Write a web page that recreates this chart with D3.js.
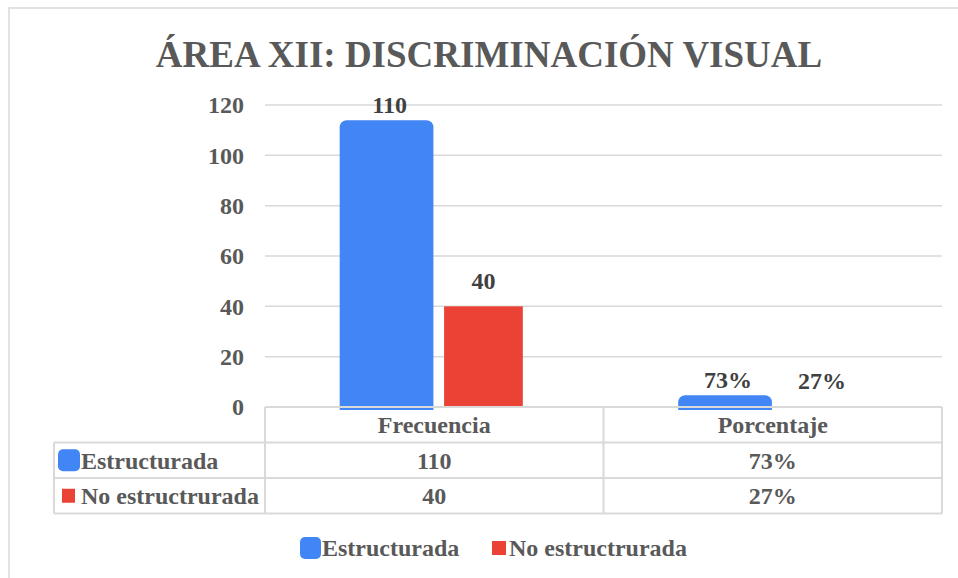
<!DOCTYPE html>
<html>
<head>
<meta charset="utf-8">
<script src="https://cdn.jsdelivr.net/npm/d3@7"></script>
<style>
  body { margin: 0; background: #ffffff; }
  svg text { font-family: "Liberation Serif", "Times New Roman", serif; font-weight: bold; }
</style>
</head>
<body>
<div id="chart"></div>
<script>
var categories = ["Frecuencia", "Porcentaje"];
var seriesNames = ["Estructurada", "No estructrurada"];
var estructurada = [110, 0.73];
var noEstructurada = [40, 0.27];
var yTicks = [0, 20, 40, 60, 80, 100, 120];
var colors = ["#4285F4", "#EA4335"];

var w = 958, h = 578;
var plotLeft = 265, plotRight = 942, plotTop = 105, zero = 407;
var rowH = 35.5;

function fmt(v, i) {
    return i === 1 ? Math.round(v * 100) + "%" : String(v);
}

var svg = d3.select("#chart").append("svg")
    .attr("width", w)
    .attr("height", h);

// outer frame
svg.append("rect")
    .attr("x", 9).attr("y", 8)
    .attr("width", w).attr("height", h)
    .attr("fill", "none")
    .attr("stroke", "#d9d9d9")
    .attr("stroke-width", 1.5);

svg.append("text")
    .attr("x", 489).attr("y", 67)
    .attr("text-anchor", "middle")
    .attr("font-size", 37)
    .attr("fill", "#595959")
    .text("ÁREA XII: DISCRIMINACIÓN VISUAL");

var x = d3.scaleBand().domain(categories).range([plotLeft, plotRight]);
var xs = d3.scaleBand().domain(seriesNames).range([0, x.bandwidth()])
    .paddingInner(0.2).paddingOuter(0.82);
var y = d3.scaleLinear().domain([0, 120]).range([zero, plotTop]);

// gridlines
svg.append("g").selectAll("line")
    .data(yTicks.slice(1))
    .enter().append("line")
    .attr("x1", plotLeft).attr("x2", plotRight)
    .attr("y1", function (d) { return y(d); })
    .attr("y2", function (d) { return y(d); })
    .attr("stroke", "#d9d9d9")
    .attr("stroke-width", 1.5);

var yAxis = svg.append("g")
    .attr("transform", "translate(" + plotLeft + ",0)")
    .call(d3.axisLeft(y).tickValues(yTicks).tickSize(0).tickPadding(21));
yAxis.select(".domain").remove();
yAxis.selectAll("text")
    .attr("font-size", 24)
    .attr("font-family", "Liberation Serif, serif")
    .attr("fill", "#595959");

var data = [];
categories.forEach(function (c, i) {
    data.push({ cat: c, ci: i, s: 0, v: estructurada[i] });
    data.push({ cat: c, ci: i, s: 1, v: noEstructurada[i] });
});

svg.append("clipPath").attr("id", "clipBars")
    .append("rect")
    .attr("x", 0).attr("y", 0)
    .attr("width", w).attr("height", zero + 3);

var bars = svg.append("g").attr("clip-path", "url(#clipBars)");
bars.selectAll("rect")
    .data(data)
    .enter().append("rect")
    .attr("x", function (d) {
        var bx = x(d.cat) + xs(seriesNames[d.s]);
        return d.s === 0 ? bx - 6 : bx;
    })
    .attr("width", function (d) { return d.s === 0 ? xs.bandwidth() + 15 : xs.bandwidth(); })
    .attr("y", function (d) { return d.s === 0 ? y(d.v) - 10 : y(d.v); })
    .attr("height", function (d) {
        return d.s === 0 ? zero - y(d.v) + 20 : zero - y(d.v);
    })
    .attr("rx", function (d) { return d.s === 0 ? 7 : 0; })
    .attr("fill", function (d) { return colors[d.s]; });

svg.append("g").selectAll("text")
    .data(data)
    .enter().append("text")
    .attr("x", function (d) {
        var bx = x(d.cat) + xs(seriesNames[d.s]) + xs.bandwidth() / 2;
        return d.s === 0 ? bx + 4.5 : bx;
    })
    .attr("y", function (d) { return y(d.v) - 17; })
    .attr("text-anchor", "middle")
    .attr("font-size", 24)
    .attr("fill", "#404040")
    .text(function (d) { return fmt(d.v, d.ci); });

// data table
var tbl = svg.append("g").attr("stroke", "#d9d9d9").attr("stroke-width", 2);
var rows = [zero, zero + rowH, zero + 2 * rowH, zero + 3 * rowH];
tbl.append("line").attr("x1", plotLeft).attr("x2", plotRight).attr("y1", rows[0]).attr("y2", rows[0]);
[1, 2, 3].forEach(function (r) {
    tbl.append("line").attr("x1", 54).attr("x2", plotRight).attr("y1", rows[r]).attr("y2", rows[r]);
});
tbl.append("line").attr("x1", 54).attr("x2", 54).attr("y1", rows[1]).attr("y2", rows[3]);
[plotLeft, x(categories[1]), plotRight].forEach(function (cx) {
    tbl.append("line").attr("x1", cx).attr("x2", cx).attr("y1", rows[0]).attr("y2", rows[3]);
});

svg.append("g").selectAll("text")
    .data(categories)
    .enter().append("text")
    .attr("x", function (d) { return x(d) + x.bandwidth() / 2; })
    .attr("y", rows[0] + rowH / 2)
    .attr("dy", "0.35em")
    .attr("text-anchor", "middle")
    .attr("font-size", 24)
    .attr("fill", "#595959")
    .text(function (d) { return d; });

var seriesVals = [estructurada, noEstructurada];
seriesVals.forEach(function (vals, s) {
    var cy = rows[s + 1] + rowH / 2;
    svg.append("g").selectAll("text")
        .data(vals)
        .enter().append("text")
        .attr("x", function (d, i) { return x(categories[i]) + x.bandwidth() / 2; })
        .attr("y", cy)
        .attr("dy", "0.35em")
        .attr("text-anchor", "middle")
        .attr("font-size", 24)
        .attr("fill", "#595959")
        .text(function (d, i) { return fmt(d, i); });
    if (s === 0) {
        svg.append("rect").attr("x", 58).attr("y", cy - 11).attr("width", 22).attr("height", 22)
            .attr("rx", 5).attr("fill", colors[0]);
    } else {
        svg.append("rect").attr("x", 62).attr("y", cy - 7).attr("width", 13).attr("height", 14)
            .attr("fill", colors[1]);
    }
    svg.append("text")
        .attr("x", 81).attr("y", cy).attr("dy", "0.35em")
        .attr("font-size", 24)
        .attr("fill", "#595959")
        .text(seriesNames[s]);
});

// legend
var legY = 548;
svg.append("rect").attr("x", 300).attr("y", legY - 11).attr("width", 21).attr("height", 22)
    .attr("rx", 5).attr("fill", colors[0]);
svg.append("text").attr("x", 322).attr("y", legY).attr("dy", "0.35em")
    .attr("font-size", 24).attr("fill", "#595959").text(seriesNames[0]);
svg.append("rect").attr("x", 492).attr("y", legY - 7).attr("width", 14).attr("height", 14)
    .attr("fill", colors[1]);
svg.append("text").attr("x", 509).attr("y", legY).attr("dy", "0.35em")
    .attr("font-size", 24).attr("fill", "#595959").text(seriesNames[1]);
</script>
</body>
</html>
